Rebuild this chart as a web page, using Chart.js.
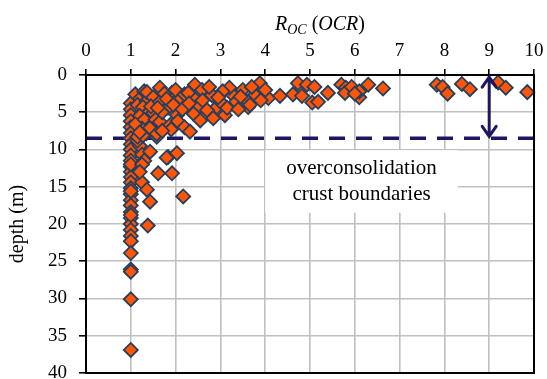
<!DOCTYPE html>
<html>
<head>
<meta charset="utf-8">
<script src="https://cdn.jsdelivr.net/npm/chart.js@4.4.1/dist/chart.umd.min.js"></script>
<style>
  html, body { margin: 0; padding: 0; background: #ffffff; }
  #wrap { width: 547px; height: 379px; position: relative; }
</style>
</head>
<body>
<div id="wrap"><canvas id="c" width="547" height="379"></canvas></div>
<script>
// ---- Data ----
// OCR values (x) and depths in m (y), paired by index
const ocrValues = [
  // column near OCR = 1
  1.0, 1.0, 1.0, 1.0, 1.0, 1.0, 1.0, 1.0, 1.0, 1.0, 1.0, 1.0, 1.0, 1.0, 1.0, 1.0, 1.0, 1.0,
  1.0, 1.0, 1.0, 1.0, 1.0, 1.0, 1.0, 1.0, 1.0, 1.0, 1.0, 1.0, 1.0, 1.0, 1.0,
  // secondary column 1.1 - 2.2 below the crust
  1.2, 1.25, 1.43, 1.3, 1.25, 1.25, 1.36, 1.43, 1.38, 1.2, 1.15, 1.83, 2.03, 1.61, 1.92, 2.17, 1.8, 1.58,
  // crust, OCR 1.1 - 1.6
  1.1, 1.2, 1.15, 1.3, 1.35, 1.27, 1.4, 1.2, 1.3, 1.45, 1.25, 1.35, 1.15, 1.5, 1.43, 1.27, 1.58, 1.36,
  1.5, 1.45, 1.55, 1.1, 1.2,
  // crust, OCR 1.6 - 2.3
  1.65, 1.92, 2.1, 1.65, 1.83, 2.03, 1.65, 1.88, 1.75, 1.8, 2.0, 2.2, 1.7, 1.95, 2.15, 1.6, 2.05, 1.9,
  2.2, 1.7, 2.32,
  // crust, OCR 2.3 - 3.4
  2.43, 2.59, 2.81, 2.39, 2.28, 2.92, 2.66, 3.1, 3.28, 3.2, 3.0, 2.84, 2.5, 2.4, 2.6, 2.75, 3.05, 2.95,
  3.35, 3.15, 2.3, 2.55, 2.7,
  // crust, OCR 3.4 - 4.4
  3.5, 3.62, 3.77, 3.88, 4.07, 4.33, 3.62, 3.45, 3.7, 3.4, 4.0, 3.9, 3.66,
  // crust, OCR 4.4 - 6.7
  4.62, 4.73, 4.93, 4.82, 5.05, 5.18, 5.1, 5.4, 5.7, 5.8, 5.78, 5.93, 6.1, 6.1, 6.3, 6.63, 6.0,
  // crust, OCR > 7
  7.83, 7.96, 8.07, 8.39, 8.57, 9.2, 9.37, 9.85
];
const depthValues = [
  3.8, 4.6, 5.4, 6.2, 7.0, 7.8, 8.5, 9.3, 10.0, 10.8, 11.5, 12.3, 13.0, 13.7, 14.4, 15.2, 16.0, 16.8,
  17.5, 18.4, 19.2, 20.0, 20.8, 21.6, 22.3, 23.9, 26.1, 26.4, 30.1, 36.9, 12.0, 15.6, 18.8,
  9.5, 10.7, 10.3, 11.5, 12.0, 14.4, 15.4, 17.0, 20.2, 13.0, 8.8, 11.0, 10.5, 13.2, 13.2, 16.3, 11.1, 8.3,
  2.6, 3.2, 4.0, 2.2, 3.5, 4.3, 5.0, 5.5, 6.0, 6.8, 7.2, 7.8, 8.3, 5.1, 7.1, 8.1, 7.9, 2.3,
  3.0, 4.2, 6.0, 6.6, 7.7,
  1.7, 2.4, 3.0, 3.6, 4.4, 5.4, 6.3, 6.7, 2.5, 3.2, 2.0, 2.6, 5.0, 4.0, 4.6, 4.4, 6.2, 7.3,
  7.0, 7.5, 7.6,
  1.3, 2.0, 2.7, 3.0, 2.4, 4.3, 5.4, 5.4, 2.7, 1.7, 3.6, 5.8, 4.4, 5.2, 3.4, 1.6, 2.2, 3.0,
  3.6, 4.4, 3.8, 6.1, 4.7,
  2.0, 4.3, 2.7, 1.1, 3.1, 2.8, 3.6, 2.9, 1.6, 4.6, 2.0, 3.4, 4.0,
  2.6, 1.1, 1.3, 2.8, 3.7, 3.6, 1.6, 2.4, 1.3, 1.7, 2.4, 1.6, 3.0, 2.2, 1.3, 1.8, 2.5,
  1.3, 1.6, 2.5, 1.2, 1.9, 1.0, 1.7, 2.3
];
const xTicks = [0, 1, 2, 3, 4, 5, 6, 7, 8, 9, 10];
const yTicks = [0, 5, 10, 15, 20, 25, 30, 35, 40];
const crustDepth = 8.5;           // dashed boundary line
const arrowX = 9;                 // double arrow position (OCR)
const arrowTop = 0.3;             // depth of upper arrow tip
const annotationLines = ['overconsolidation', 'crust boundaries'];

// ---- Build chart ----
const points = ocrValues.map((v, i) => ({ x: v, y: depthValues[i] }));
const serif = "'Liberation Serif', 'Times New Roman', serif";
const navy = '#1d1660';

const overlay = {
  id: 'overlay',
  beforeDatasetsDraw(chart) {
    const { ctx, scales: { x, y } } = chart;
    // white annotation box
    const l = x.getPixelForValue(4.0), r = x.getPixelForValue(8.3);
    const t = y.getPixelForValue(10.1), b = y.getPixelForValue(18.5);
    ctx.save();
    ctx.fillStyle = '#ffffff';
    ctx.fillRect(l, t, r - l, b - t);
    ctx.fillStyle = '#000000';
    ctx.font = '21px ' + serif;
    ctx.textAlign = 'center';
    ctx.textBaseline = 'alphabetic';
    const cx = (l + r) / 2;
    ctx.fillText(annotationLines[0], cx, t + 24);
    ctx.fillText(annotationLines[1], cx, t + 50);
    ctx.restore();
  },
  afterDatasetsDraw(chart) {
    const { ctx, chartArea: ca, scales: { x, y } } = chart;
    ctx.save();
    // frame
    ctx.strokeStyle = '#000';
    ctx.lineWidth = 2;
    ctx.strokeRect(ca.left, ca.top, ca.right - ca.left, ca.bottom - ca.top);
    // double arrow
    const ax = x.getPixelForValue(arrowX);
    const y1 = y.getPixelForValue(arrowTop);
    const y2 = y.getPixelForValue(crustDepth) - 2;
    ctx.strokeStyle = navy;
    ctx.lineWidth = 3;
    ctx.lineCap = 'round';
    ctx.beginPath();
    ctx.moveTo(ax, y1 + 1); ctx.lineTo(ax, y2 - 1);
    ctx.moveTo(ax - 7, y1 + 10); ctx.lineTo(ax, y1); ctx.lineTo(ax + 7, y1 + 10);
    ctx.moveTo(ax - 7, y2 - 10); ctx.lineTo(ax, y2); ctx.lineTo(ax + 7, y2 - 10);
    ctx.stroke();
    // axis title with subscript: R_OC (OCR)
    const parts = [
      { t: 'R', f: 'italic 20px ' + serif, dy: 0 },
      { t: 'OC', f: 'italic 14px ' + serif, dy: 4 },
      { t: ' (', f: '20px ' + serif, dy: 0 },
      { t: 'OCR', f: 'italic 20px ' + serif, dy: 0 },
      { t: ')', f: '20px ' + serif, dy: 0 }
    ];
    let total = 0;
    parts.forEach(p => { ctx.font = p.f; p.w = ctx.measureText(p.t).width; total += p.w; });
    let px = 320 - total / 2;
    ctx.fillStyle = '#000';
    ctx.textBaseline = 'alphabetic';
    ctx.textAlign = 'left';
    parts.forEach(p => { ctx.font = p.f; ctx.fillText(p.t, px, 30 + p.dy); px += p.w; });
    ctx.restore();
  }
};

new Chart(document.getElementById('c'), {
  type: 'scatter',
  data: {
    datasets: [
      {
        label: 'OCR',
        data: points,
        pointStyle: 'rectRot',
        pointRadius: 7,
        pointHoverRadius: 7,
        backgroundColor: '#ff5505',
        borderColor: '#263f5e',
        borderWidth: 1.8,
        clip: false
      },
      {
        type: 'line',
        label: 'boundary',
        data: [{ x: 0, y: crustDepth }, { x: 10, y: crustDepth }],
        borderColor: navy,
        borderWidth: 3.5,
        borderDash: [16, 11],
        pointRadius: 0,
        fill: false
      }
    ]
  },
  options: {
    responsive: false,
    animation: false,
    events: [],
    layout: { autoPadding: false, padding: { left: 0, top: 0, right: 13, bottom: 6 } },
    plugins: { legend: { display: false }, tooltip: { enabled: false }, title: { display: false } },
    scales: {
      x: {
        type: 'linear',
        position: 'top',
        min: 0, max: 10,
        afterBuildTicks(s) { s.ticks = xTicks.map(v => ({ value: v })); },
        afterFit(s) { s.height = 75; s.paddingLeft = 0; s.paddingRight = 0; s.paddingTop = 0; s.paddingBottom = 0; },
        ticks: { font: { family: serif, size: 19 }, color: '#000', padding: 7, maxRotation: 0 },
        grid: { color: '#c0c0c0', lineWidth: 1.6, tickColor: '#000', tickLength: 6, tickWidth: 1.6 },
        border: { color: '#000', width: 2 }
      },
      y: {
        type: 'linear',
        reverse: true,
        min: 0, max: 40,
        afterBuildTicks(s) { s.ticks = yTicks.map(v => ({ value: v })); },
        afterFit(s) { s.width = 86; s.paddingTop = 0; s.paddingBottom = 0; s.paddingLeft = 0; s.paddingRight = 0; },
        ticks: { font: { family: serif, size: 19 }, color: '#000', padding: 12 },
        grid: { color: '#c0c0c0', lineWidth: 1.6, tickColor: '#000', tickLength: 7, tickWidth: 1.6 },
        border: { color: '#000', width: 2 },
        title: { display: true, text: 'depth (m)', font: { family: serif, size: 20 }, color: '#000', padding: { top: 6, bottom: 0 } }
      }
    }
  },
  plugins: [overlay]
});
</script>
</body>
</html>
